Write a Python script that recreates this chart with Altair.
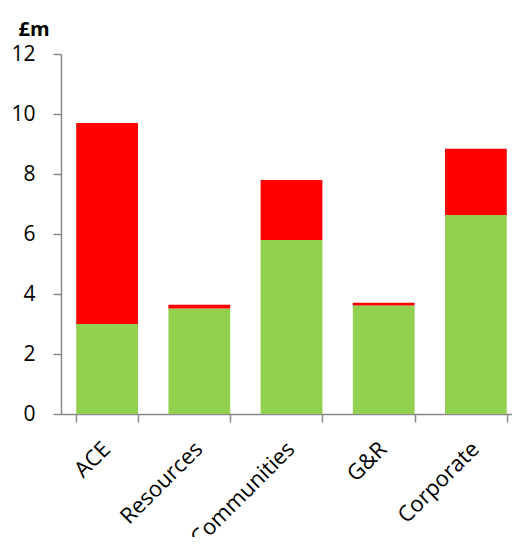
import altair as alt
import pandas as pd

categories = ["ACE", "Resources", "Communities", "G&R", "Corporate"]
green_values = [3.0, 3.52, 5.8, 3.62, 6.63]
red_values = [6.7, 0.12, 2.0, 0.09, 2.21]
series_names = ["Green", "Red"]
series_colors = ["#92D050", "#FF0000"]

rows = []
for c, g, r in zip(categories, green_values, red_values):
    rows.append({"cat": c, "series": series_names[0], "value": g, "ord": 0})
    rows.append({"cat": c, "series": series_names[1], "value": r, "ord": 1})
df = pd.DataFrame(rows)

FONT = "Open Sans"
AXIS_COLOR = "#898989"

chart = alt.Chart(df).mark_bar().encode(
    x=alt.X("cat:N", sort=categories, title=None,
            scale=alt.Scale(paddingInner=0.33, paddingOuter=0.165),
            axis=alt.Axis(labelAngle=-45, labelFontSize=22, labelFont=FONT,
                          labelColor="#000", tickBand="extent", tickSize=8,
                          domainColor=AXIS_COLOR, tickColor=AXIS_COLOR, labelPadding=16,
                          domainWidth=1.5, tickWidth=1.5, labelAlign="right",
                          labelBaseline="top", labelOffset=-8)),
    y=alt.Y("value:Q", stack="zero",
            scale=alt.Scale(domain=[0, 12], nice=False),
            axis=alt.Axis(values=[0, 2, 4, 6, 8, 10, 12], labelFontSize=21,
                          labelFont=FONT, labelColor="#000", grid=False,
                          tickSize=8, domainColor=AXIS_COLOR, tickColor=AXIS_COLOR,
                          labelPadding=18, domainWidth=1.5, tickWidth=1.5,
                          title="£m", titleAngle=0, titleFont=FONT, titleFontSize=20,
                          titleFontWeight="bold", titleColor="#000",
                          titleX=-43, titleY=-15, titleAlign="left",
                          titleBaseline="bottom")),
    color=alt.Color("series:N", scale=alt.Scale(domain=series_names, range=series_colors),
                    legend=None),
    order=alt.Order("ord:Q", sort="ascending"),
).properties(
    width=461, height=360,
    autosize=alt.AutoSizeParams(type="none"),
    padding={"left": 53, "top": 46, "right": -10, "bottom": 123},
).configure_view(stroke=None)

chart.save("out.html", embed_options={"renderer": "svg", "actions": False})
